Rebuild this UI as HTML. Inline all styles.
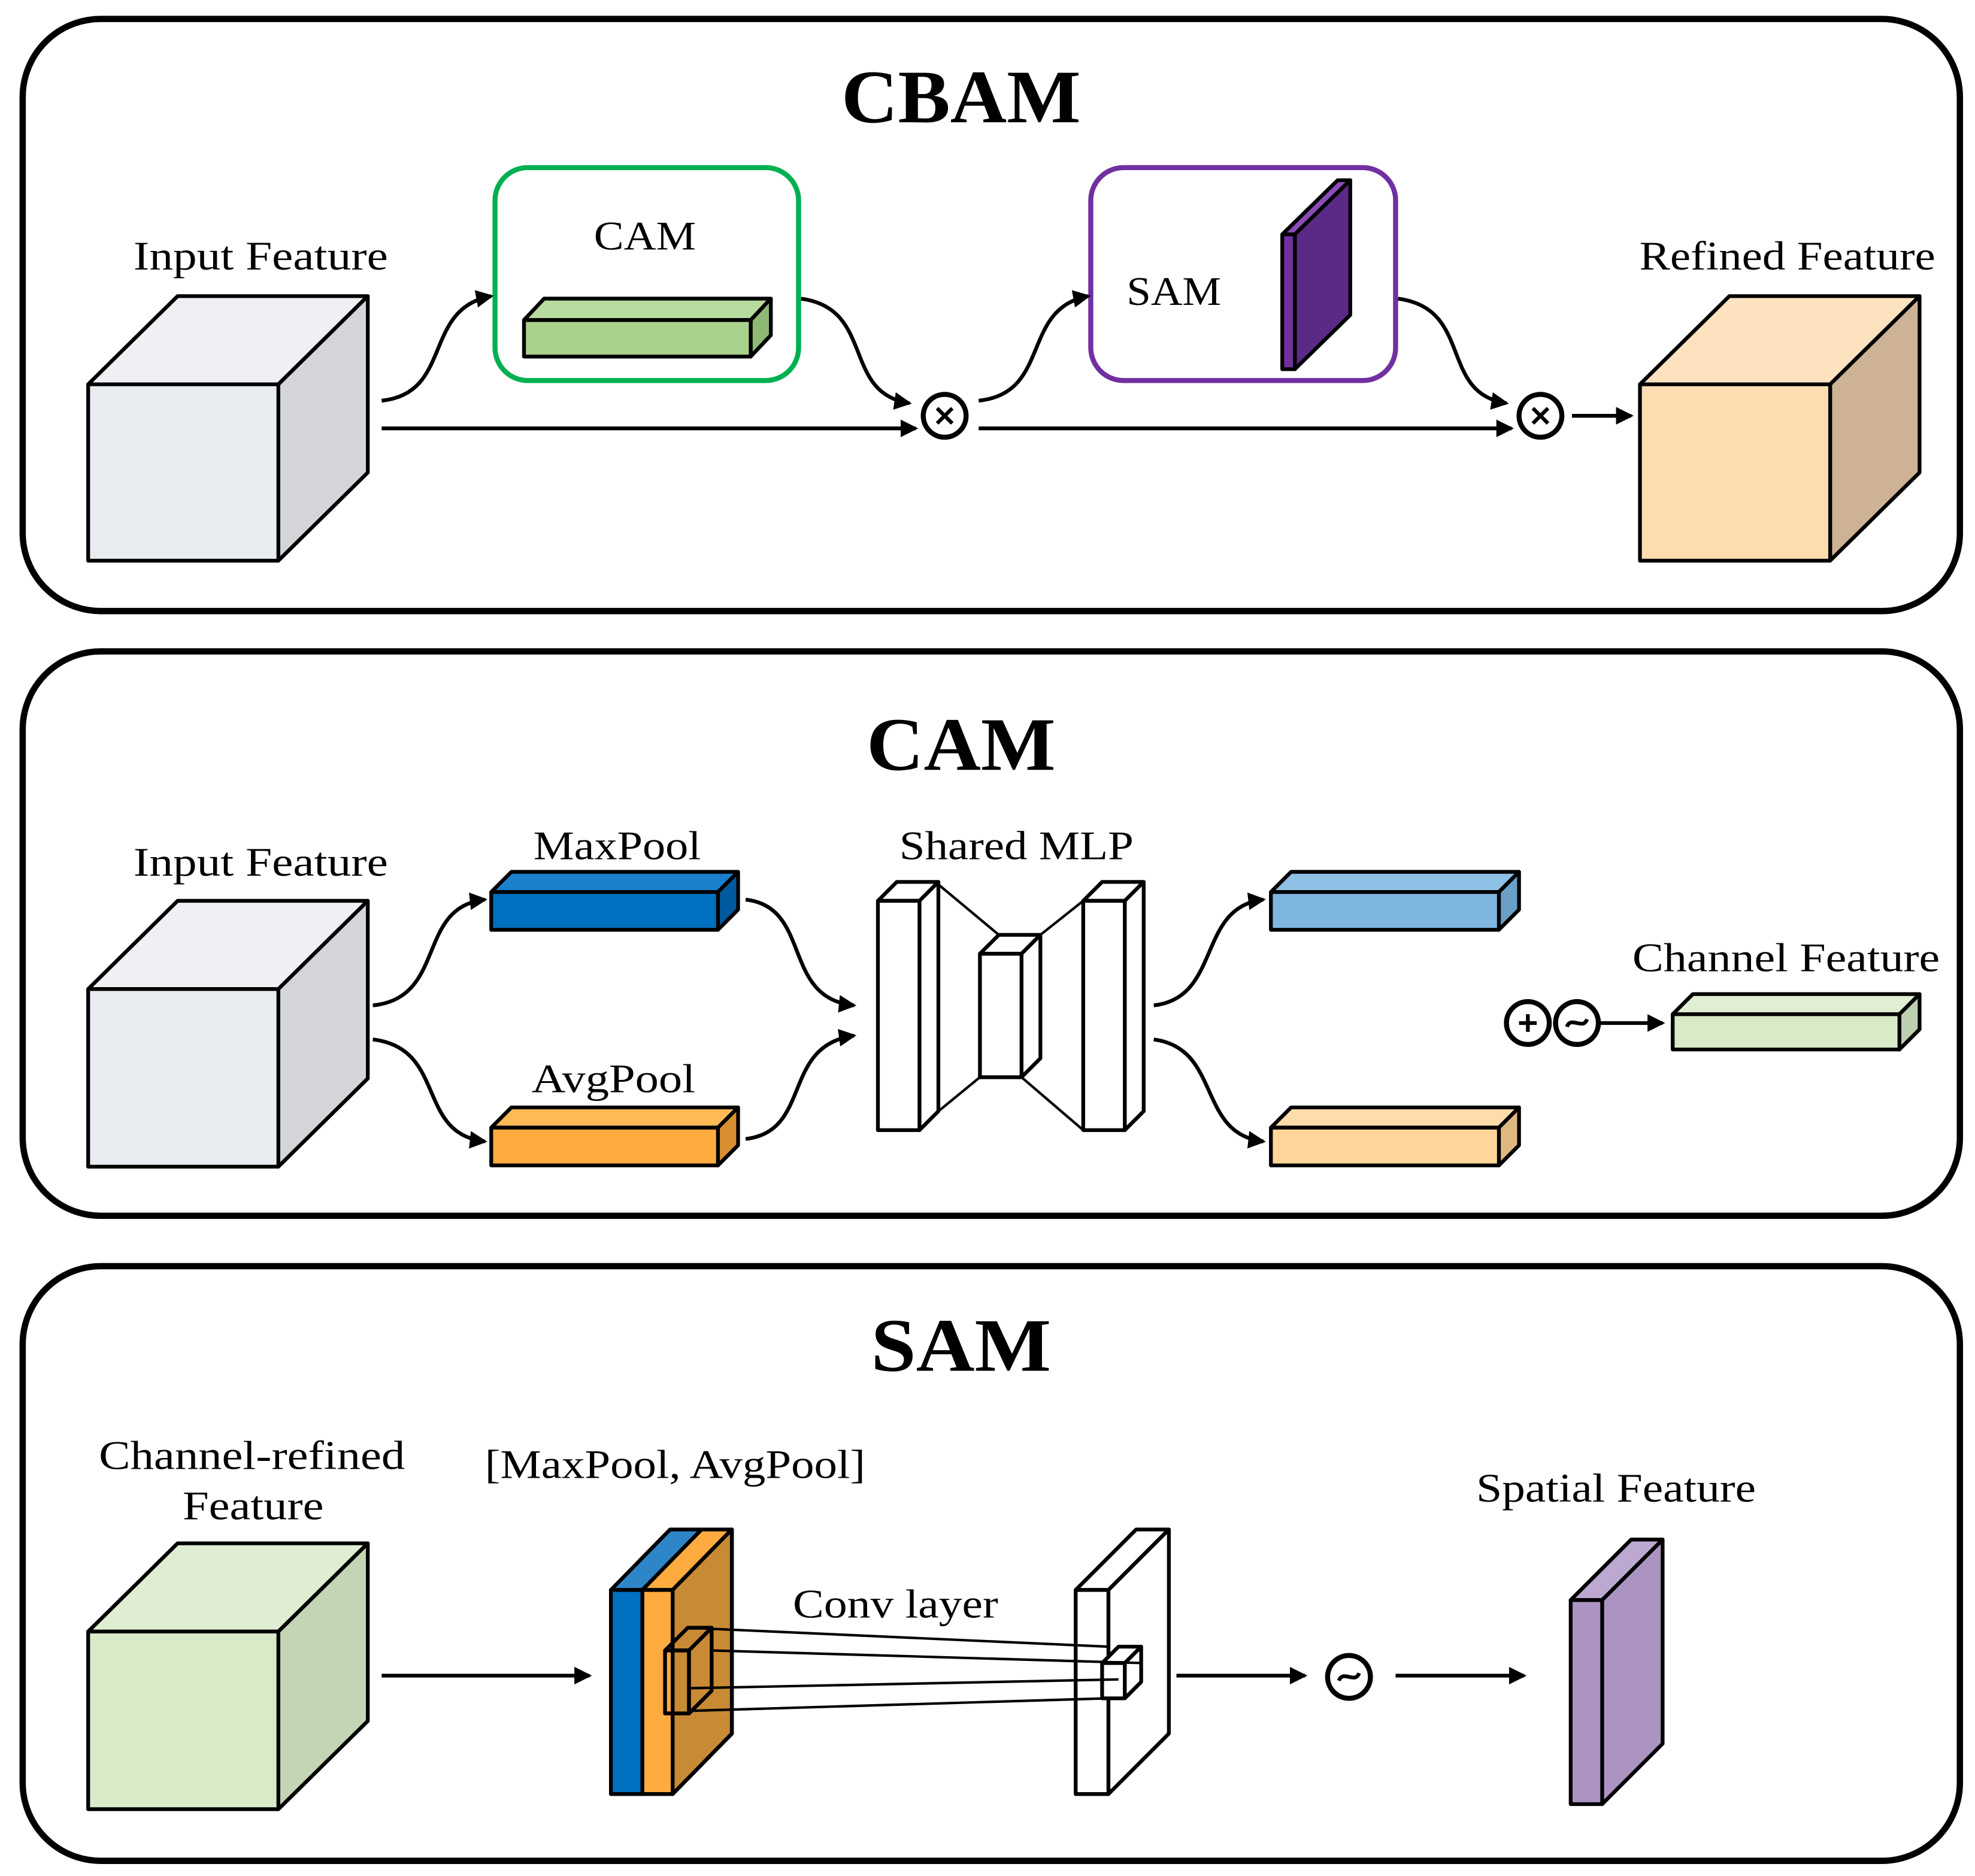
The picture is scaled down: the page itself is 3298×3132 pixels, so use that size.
<!DOCTYPE html>
<html><head><meta charset="utf-8"><style>
html,body{margin:0;padding:0;background:#fff}
svg{display:block}
text{font-family:"Liberation Serif",serif;fill:#000}
</style></head><body>
<svg id="s" width="3298" height="3132" viewBox="0 0 1568 1489" xmlns="http://www.w3.org/2000/svg">
<defs>
<marker id="a" markerWidth="14" markerHeight="14" refX="12" refY="7" orient="auto" markerUnits="userSpaceOnUse" viewBox="0 0 14 14">
<path d="M0,0 L14,7 L0,14 z" fill="#000"/></marker>
</defs>
<g fill="none" stroke="#000" stroke-width="5">
<rect x="18" y="15" width="1538" height="470" rx="62"/>
<rect x="18" y="517" width="1538" height="448" rx="62"/>
<rect x="18" y="1005" width="1538" height="472" rx="62"/>
</g>
<g text-anchor="middle" font-weight="bold" font-size="60" lengthAdjust="spacingAndGlyphs">
<text x="763" y="97" textLength="190" lengthAdjust="spacingAndGlyphs">CBAM</text>
<text x="763" y="611" textLength="150" lengthAdjust="spacingAndGlyphs">CAM</text>
<text x="763" y="1088" textLength="143" lengthAdjust="spacingAndGlyphs">SAM</text>
</g>
<g text-anchor="middle" font-size="32">
<text x="207" y="214" textLength="202" lengthAdjust="spacingAndGlyphs">Input Feature</text>
<text x="512" y="198" textLength="81" lengthAdjust="spacingAndGlyphs">CAM</text>
<text x="932" y="242" textLength="75" lengthAdjust="spacingAndGlyphs">SAM</text>
<text x="1419" y="214" textLength="235" lengthAdjust="spacingAndGlyphs">Refined Feature</text>
<text x="207" y="695" textLength="202" lengthAdjust="spacingAndGlyphs">Input Feature</text>
<text x="490" y="682" textLength="133" lengthAdjust="spacingAndGlyphs">MaxPool</text>
<text x="487" y="867" textLength="130" lengthAdjust="spacingAndGlyphs">AvgPool</text>
<text x="807" y="682" textLength="186" lengthAdjust="spacingAndGlyphs">Shared MLP</text>
<text x="1418" y="771" textLength="244" lengthAdjust="spacingAndGlyphs">Channel Feature</text>
<text x="200" y="1166" textLength="243" lengthAdjust="spacingAndGlyphs">Channel-refined</text>
<text x="201" y="1206" textLength="112" lengthAdjust="spacingAndGlyphs">Feature</text>
<text x="536" y="1173" textLength="302" lengthAdjust="spacingAndGlyphs">[MaxPool, AvgPool]</text>
<text x="711" y="1284" textLength="163" lengthAdjust="spacingAndGlyphs">Conv layer</text>
<text x="1283" y="1192" textLength="222" lengthAdjust="spacingAndGlyphs">Spatial Feature</text>
</g>
<rect x="393" y="133" width="241" height="169" rx="26" fill="none" stroke="#00b050" stroke-width="4"/>
<rect x="866" y="133" width="242" height="169" rx="26" fill="none" stroke="#7030a0" stroke-width="4"/>
<g id="shapes"></g>
<g fill="none" stroke="#000" stroke-width="3" marker-end="url(#a)">
<path d="M303,340 L727,340"/>
<path d="M777,340 L1200,340"/>
<path d="M1248,330 L1295,330"/>
<path d="M303,318 C360,312 335,245 390,235"/>
<path d="M636,237 C695,245 668,312 722,320"/>
<path d="M777,318 C835,312 810,245 864,235"/>
<path d="M1110,237 C1170,245 1142,312 1196,320"/>
<path d="M296,798 C355,792 330,720 385,714"/>
<path d="M296,825 C355,832 330,900 385,906"/>
<path d="M592,714 C645,720 620,792 678,798"/>
<path d="M592,904 C645,898 620,830 678,822"/>
<path d="M916,798 C970,792 950,720 1003,714"/>
<path d="M916,825 C970,832 950,900 1003,906"/>
<path d="M1270,812 L1320,812"/>
<path d="M303,1330 L468,1330"/>
<path d="M934,1330 L1036,1330"/>
<path d="M1108,1330 L1210,1330"/>
</g>
<g fill="#fff" stroke="#000" stroke-width="4">
<circle cx="750" cy="330" r="17"/>
<circle cx="1223" cy="330" r="17"/>
<circle cx="1213" cy="812" r="17"/>
<circle cx="1252" cy="812" r="17"/>
<circle cx="1071" cy="1331" r="17"/>
</g>
<g stroke="#000" stroke-width="3" fill="none">
<path d="M744,324 L756,336 M756,324 L744,336"/>
<path d="M1217,324 L1229,336 M1229,324 L1217,336"/>
<path d="M1206,812 L1220,812 M1213,805 L1213,819"/>
<path d="M1244,815 C1247,806 1257,818 1260,809"/>
<path d="M1063,1334 C1066,1325 1076,1337 1079,1328"/>
</g>
</svg>
<script>
var g=document.getElementById('shapes');var NS='http://www.w3.org/2000/svg';
function poly(pts,fill){var p=document.createElementNS(NS,'polygon');p.setAttribute('points',pts.map(function(q){return q.join(',')}).join(' '));p.setAttribute('fill',fill);p.setAttribute('stroke','#000');p.setAttribute('stroke-width','3');p.setAttribute('stroke-linejoin','round');g.appendChild(p);}
function cub(x,y,w,h,dx,dy,f,t,s){
poly([[x,y],[x+dx,y-dy],[x+w+dx,y-dy],[x+w,y]],t);
poly([[x+w,y],[x+w+dx,y-dy],[x+w+dx,y+h-dy],[x+w,y+h]],s);
poly([[x,y],[x+w,y],[x+w,y+h],[x,y+h]],f);}
function line(x1,y1,x2,y2){var l=document.createElementNS(NS,'line');l.setAttribute('x1',x1);l.setAttribute('y1',y1);l.setAttribute('x2',x2);l.setAttribute('y2',y2);l.setAttribute('stroke','#000');l.setAttribute('stroke-width','2');g.appendChild(l);}
// panel 1
cub(70,305,151,140,71,70,'#e8ebef','#eef0f3','#d3d5d9');
cub(1302,305,151,140,71,70,'#fddcb2','#fde2c0','#cdb296');
cub(416,254,180,29,16,17,'#a9d18e','#b8dba0','#8fb874');
cub(1018,186,10,107,44,43,'#7030a0','#8a4cb8','#5b2a86');
// panel 2
cub(70,785,151,141,71,70,'#e8ebef','#eef0f3','#d3d5d9');
cub(390,708,180,30,16,16,'#0070c0','#1a80cc','#005a9e');
cub(390,895,180,30,16,16,'#ffab40','#ffb955','#d88f30');
line(745,702,793,742);line(745,882,778,855);line(826,742,860,715);line(811,855,860,897);
cub(697,715,33,182,15,15,'#fff','#fff','#fff');
cub(778,757,33,98,15,15,'#fff','#fff','#fff');
cub(860,715,33,182,15,15,'#fff','#fff','#fff');
cub(1009,708,181,30,16,16,'#7eb6e0','#8fc0e5','#6a9fc6');
cub(1009,895,181,30,16,16,'#ffd59a','#ffdcab','#dfb880');
cub(1328,805,180,28,16,16,'#d8eac8','#e0efd3','#bccfae');
// panel 3
cub(70,1295,151,141,71,70,'#d8eac8','#dfeed2','#c3d5b4');
cub(534,1262,0.1,162,47,48,'#c98a35','#c98a35','#c98a35');
cub(485,1262,25,162,47,48,'#0070c0','#2e86c8','#0070c0');
cub(510,1262,24,162,47,48,'#ffab40','#ffab40','#c98a35');
cub(528,1310,19,50,18,18,'none','none','none');
cub(854,1262,26,162,48,48,'#fff','#fff','#fff');
cub(875,1320,18,28,13,13,'#fff','#fff','#fff');
line(546,1292,880,1307);line(564,1310,906,1320);line(547,1340,888,1333);line(547,1358,880,1348);
cub(1247,1270,25,162,48,48,'#ab94c2','#bca8d0','#ab94c2');
</script>
</body></html>
